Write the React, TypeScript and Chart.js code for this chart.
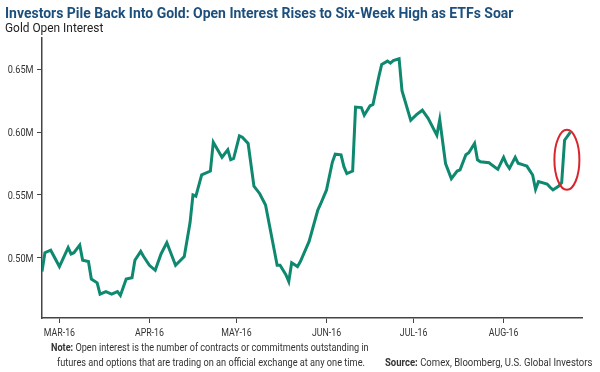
import React, { useEffect, useLayoutEffect, useRef } from 'react';
import { Chart, registerables } from 'chart.js';

Chart.register(...registerables);

// Days offset from 1 March 2016
const dayOffsets = [
  -6, -5, -3, 0, 3, 4, 5, 7, 8, 10, 11, 13, 14, 16, 18, 20, 21, 23, 25, 26,
  28, 29, 31, 33, 35, 37, 39, 40, 43, 45, 46, 47, 49, 52, 53, 56, 58, 59, 60, 62,
  63, 65, 67, 69, 71, 75, 76, 78, 79, 80, 82, 83, 86, 89, 90, 92, 94, 95, 97, 98,
  99, 101, 102, 104, 105, 107, 108, 110, 111, 113, 114, 115, 117, 118, 121, 123, 125, 127, 130, 131,
  133, 135, 137, 138, 140, 141, 143, 144, 145, 148, 149, 151, 153, 154, 155, 157, 158, 160, 161, 163,
  164, 165, 168, 169, 170, 172, 173, 174, 176,
];

// Gold open interest, millions of contracts
const openInterest = [
  0.489, 0.504, 0.506, 0.493, 0.508, 0.503, 0.504, 0.510, 0.498, 0.497, 0.483, 0.480, 0.471, 0.473, 0.471, 0.473, 0.470, 0.483, 0.484, 0.498,
  0.505, 0.501, 0.494, 0.490, 0.503, 0.512, 0.500, 0.494, 0.501, 0.528, 0.550, 0.549, 0.566, 0.569, 0.592, 0.580, 0.586, 0.578, 0.579, 0.597,
  0.596, 0.591, 0.557, 0.551, 0.542, 0.494, 0.494, 0.4865, 0.481, 0.496, 0.493, 0.497, 0.513, 0.538, 0.543, 0.554, 0.576, 0.5825, 0.582, 0.5725,
  0.567, 0.569, 0.620, 0.6196, 0.6135, 0.621, 0.622, 0.644, 0.654, 0.6566, 0.655, 0.657, 0.6585, 0.633, 0.6095, 0.614, 0.6175, 0.611, 0.5976, 0.610,
  0.575, 0.563, 0.569, 0.570, 0.582, 0.5836, 0.591, 0.578, 0.5764, 0.5756, 0.5738, 0.5704, 0.580, 0.5746, 0.5712, 0.580, 0.5752, 0.5738, 0.573, 0.5659,
  0.5545, 0.5606, 0.5587, 0.5561, 0.554, 0.5571, 0.5598, 0.5936, 0.600,
];

const monthTickDays = [0, 31, 61, 92, 122, 153];
const monthTickLabels = ['MAR-16', 'APR-16', 'MAY-16', 'JUN-16', 'JUL-16', 'AUG-16'];
const yTickValues = [0.5, 0.55, 0.6, 0.65];

const highlightDay = 174.8;
const highlightValue = 0.578;

const FONT = 'Roboto, "Noto Sans", sans-serif';
const LABEL_COLOR = '#333';

const ellipsePlugin = {
  id: 'highlightEllipse',
  afterDatasetsDraw(chart: any) {
    const { ctx, scales } = chart;
    const cx = scales.x.getPixelForValue(highlightDay);
    const cy = scales.y.getPixelForValue(highlightValue);
    ctx.save();
    ctx.beginPath();
    ctx.ellipse(cx, cy, 12.5, 30, 0, 0, Math.PI * 2);
    ctx.strokeStyle = '#d8262c';
    ctx.lineWidth = 2;
    ctx.stroke();
    ctx.restore();
  },
};

// Draws tick labels in a condensed style (horizontally squeezed)
const condensedLabelsPlugin = {
  id: 'condensedLabels',
  afterDraw(chart: any) {
    const { ctx, scales } = chart;
    const xs = scales.x;
    const ys = scales.y;
    ctx.save();
    ctx.fillStyle = LABEL_COLOR;
    ctx.textBaseline = 'alphabetic';
    ctx.font = '11px ' + FONT;
    ctx.textAlign = 'center';
    monthTickDays.forEach((d, i) => {
      const px = xs.getPixelForValue(d);
      ctx.save();
      ctx.translate(px, xs.top + 18);
      ctx.scale(0.8, 1);
      ctx.fillText(monthTickLabels[i], 0, 0);
      ctx.restore();
    });
    ctx.font = '10.5px ' + FONT;
    ctx.textAlign = 'right';
    yTickValues.forEach((v) => {
      const py = ys.getPixelForValue(v);
      ctx.save();
      ctx.translate(ys.right - 8.5, py + 3.8);
      ctx.scale(0.87, 1);
      ctx.fillText(v.toFixed(2) + 'M', 0, 0);
      ctx.restore();
    });
    ctx.restore();
  },
};

type FitProps = {
  left: number;
  top: number;
  width: number;
  fontSize: number;
  color: string;
  bold?: boolean;
  children: React.ReactNode;
};

function FitText({ left, top, width, fontSize, color, bold, children }: FitProps) {
  const ref = useRef<HTMLSpanElement | null>(null);
  useLayoutEffect(() => {
    const el = ref.current;
    if (!el) return;
    el.style.transform = 'none';
    const w = el.offsetWidth;
    if (w > 0) el.style.transform = `scaleX(${width / w})`;
  });
  return (
    <span
      ref={ref}
      style={{
        position: 'absolute',
        left,
        top,
        display: 'inline-block',
        whiteSpace: 'nowrap',
        transformOrigin: '0 0',
        fontFamily: FONT,
        fontSize,
        lineHeight: fontSize + 'px',
        fontWeight: bold ? 700 : 400,
        color,
      }}
    >
      {children}
    </span>
  );
}

export default function App() {
  const canvasRef = useRef<HTMLCanvasElement | null>(null);

  useEffect(() => {
    document.body.style.margin = '0';
    const canvas = canvasRef.current;
    if (!canvas) return;
    const chart = new Chart(canvas, {
      type: 'line',
      data: {
        datasets: [
          {
            data: dayOffsets.map((d, i) => ({ x: d, y: openInterest[i] })),
            borderColor: '#0f8870',
            borderWidth: 3,
            pointRadius: 0,
            tension: 0,
            fill: false,
          },
        ],
      },
      options: {
        animation: false,
        responsive: false,
        maintainAspectRatio: false,
        layout: { padding: { top: 38, right: 18, left: 0, bottom: 0 } },
        plugins: { legend: { display: false }, tooltip: { enabled: false } },
        scales: {
          x: {
            type: 'linear',
            min: -6,
            max: 180,
            afterBuildTicks: (scale: any) => {
              scale.ticks = monthTickDays.map((v) => ({ value: v }));
            },
            afterFit: (scale: any) => {
              scale.height = 54;
            },
            border: { display: true, color: '#444', width: 1.5 },
            grid: { display: true, drawOnChartArea: false, drawTicks: true, tickLength: 5, color: '#444', lineWidth: 1 },
            ticks: { display: false },
          },
          y: {
            type: 'linear',
            min: 0.452,
            max: 0.675,
            afterBuildTicks: (scale: any) => {
              scale.ticks = yTickValues.map((v) => ({ value: v }));
            },
            afterFit: (scale: any) => {
              scale.width = 42;
            },
            border: { display: true, color: '#444', width: 1.5 },
            grid: { display: true, drawOnChartArea: false, drawTicks: true, tickLength: 5, color: '#444', lineWidth: 1 },
            ticks: { display: false },
          },
        },
      },
      plugins: [ellipsePlugin, condensedLabelsPlugin],
    } as any);
    return () => chart.destroy();
  }, []);

  return (
    <div style={{ position: 'relative', width: 600, height: 372, background: '#fff', overflow: 'hidden' }}>
      <canvas ref={canvasRef} width={600} height={372} style={{ position: 'absolute', left: 0, top: 0 }} />
      <FitText left={5} top={5.9} width={508} fontSize={14} color="#1d4f7c" bold>
        Investors Pile Back Into Gold: Open Interest Rises to Six-Week High as ETFs Soar
      </FitText>
      <FitText left={5} top={22.2} width={98} fontSize={12.5} color="#222">
        Gold Open Interest
      </FitText>
      <FitText left={50.7} top={341.7} width={318} fontSize={11} color={LABEL_COLOR}>
        <b>Note:</b> Open interest is the number of contracts or commitments outstanding in
      </FitText>
      <FitText left={56.5} top={356.7} width={308} fontSize={11} color={LABEL_COLOR}>
        futures and options that are trading on an official exchange at any one time.
      </FitText>
      <FitText left={385} top={356.7} width={207} fontSize={11} color={LABEL_COLOR}>
        <b>Source:</b> Comex, Bloomberg, U.S. Global Investors
      </FitText>
    </div>
  );
}
